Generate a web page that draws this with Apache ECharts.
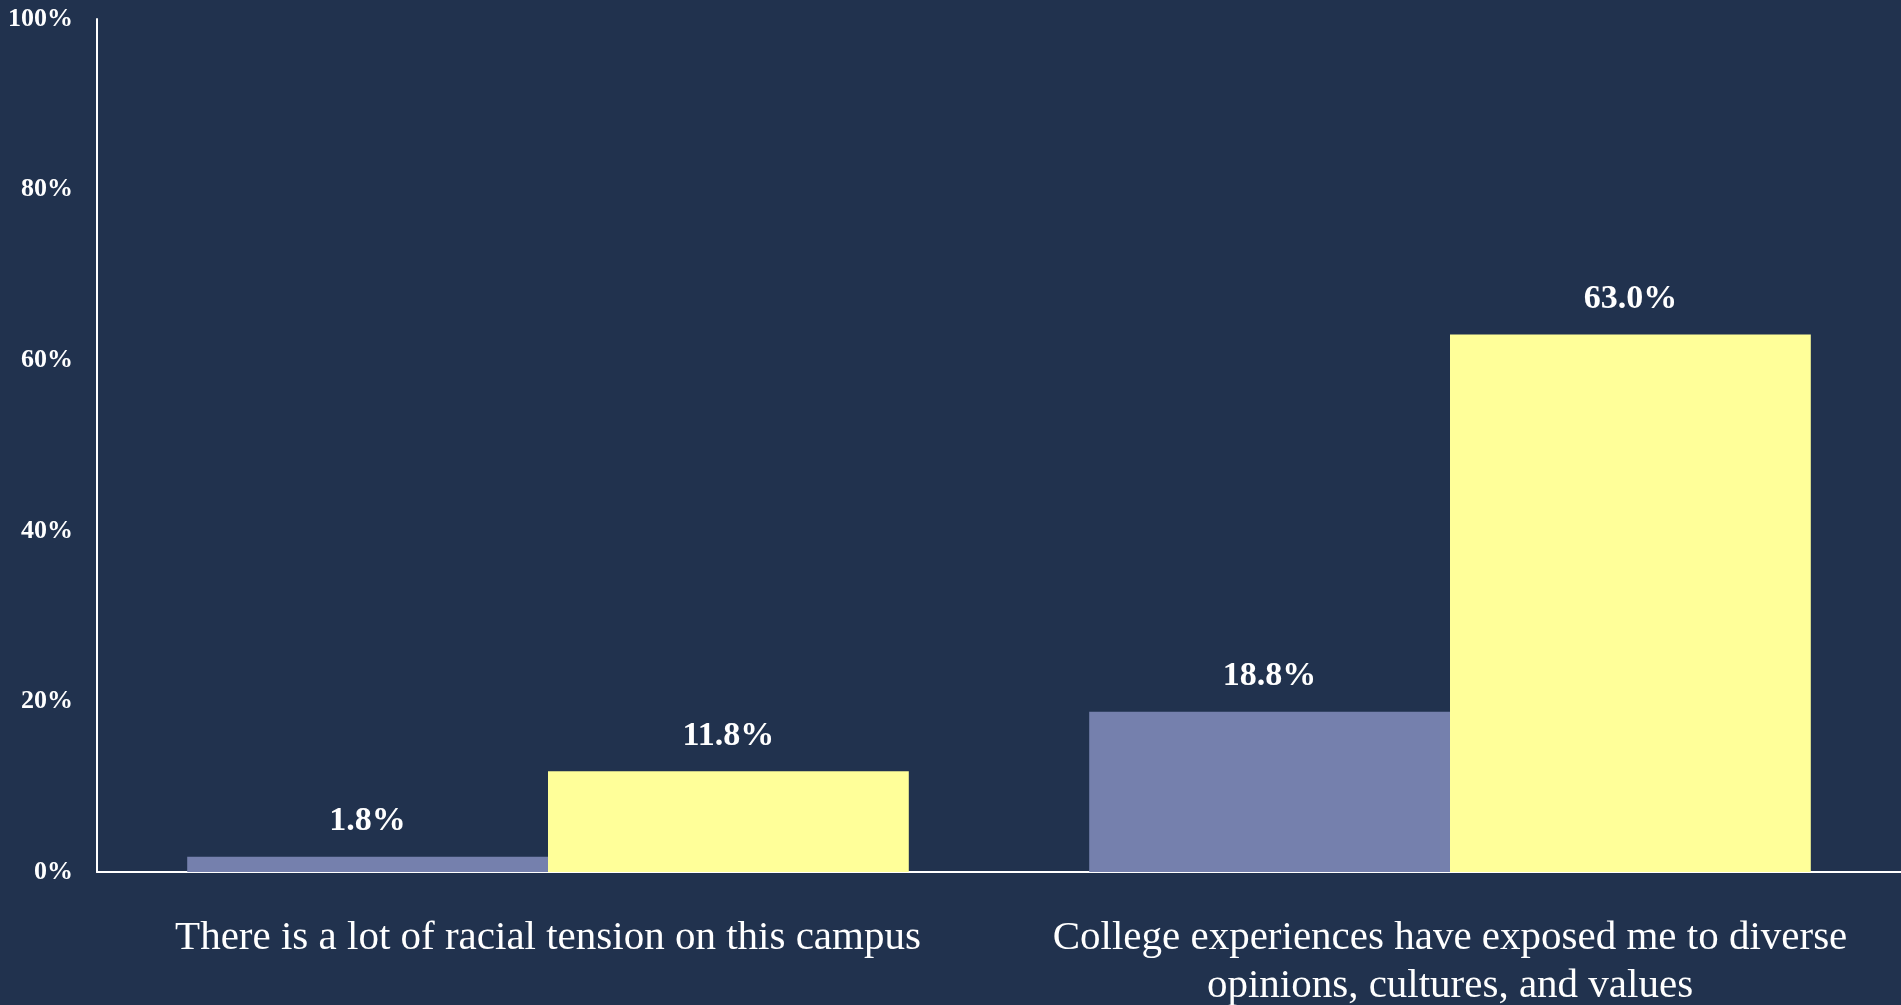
<!DOCTYPE html>
<html>
<head>
<meta charset="utf-8">
<script src="https://cdn.jsdelivr.net/npm/echarts@6/dist/echarts.min.js"></script>
<style>
html,body{margin:0;padding:0;background:#21324E;}
#chart{width:1901px;height:1005px;}
</style>
</head>
<body>
<div id="chart"></div>
<script>
var categories = [
  "There is a lot of racial tension on this campus",
  "College experiences have exposed me to diverse\nopinions, cultures, and values"
];
var seriesA = [1.8, 18.8];
var seriesB = [11.8, 63.0];
var yTicks = [0, 20, 40, 60, 80, 100];

var chart = echarts.init(document.getElementById('chart'));
var serif = '"Liberation Serif", "DejaVu Serif", serif';
var labelCfg = {
  show: true,
  position: 'top',
  distance: 18,
  color: '#FFFFFF',
  fontFamily: serif,
  fontWeight: 'bold',
  fontSize: 34,
  formatter: function (p) { return p.value.toFixed(1) + '%'; }
};
chart.setOption({
  backgroundColor: '#21324E',
  animation: false,
  grid: { left: 97, right: 0, top: 19, bottom: 133, containLabel: false, outerBoundsMode: 'none' },
  xAxis: {
    type: 'category',
    data: categories,
    axisLine: { show: true, lineStyle: { color: '#FFFFFF', width: 2 } },
    axisTick: { show: false },
    axisLabel: {
      color: '#FFFFFF',
      fontFamily: serif,
      fontSize: 41,
      lineHeight: 48,
      margin: 42,
      interval: 0
    }
  },
  yAxis: {
    type: 'value',
    min: yTicks[0],
    max: yTicks[yTicks.length - 1],
    interval: 20,
    axisLine: { show: true, lineStyle: { color: '#FFFFFF', width: 2 } },
    axisTick: { show: false },
    splitLine: { show: false },
    axisLabel: {
      color: '#FFFFFF',
      fontFamily: serif,
      fontWeight: 'bold',
      fontSize: 26,
      margin: 24,
      padding: [5, 0, 0, 0],
      formatter: '{value}%'
    }
  },
  series: [
    {
      type: 'bar',
      data: seriesA,
      barGap: '0%',
      barCategoryGap: '20%',
      itemStyle: { color: '#7580AD' },
      label: labelCfg
    },
    {
      type: 'bar',
      data: seriesB,
      barGap: '0%',
      barCategoryGap: '20%',
      itemStyle: { color: '#FFFF99' },
      label: labelCfg
    }
  ]
});
</script>
</body>
</html>
